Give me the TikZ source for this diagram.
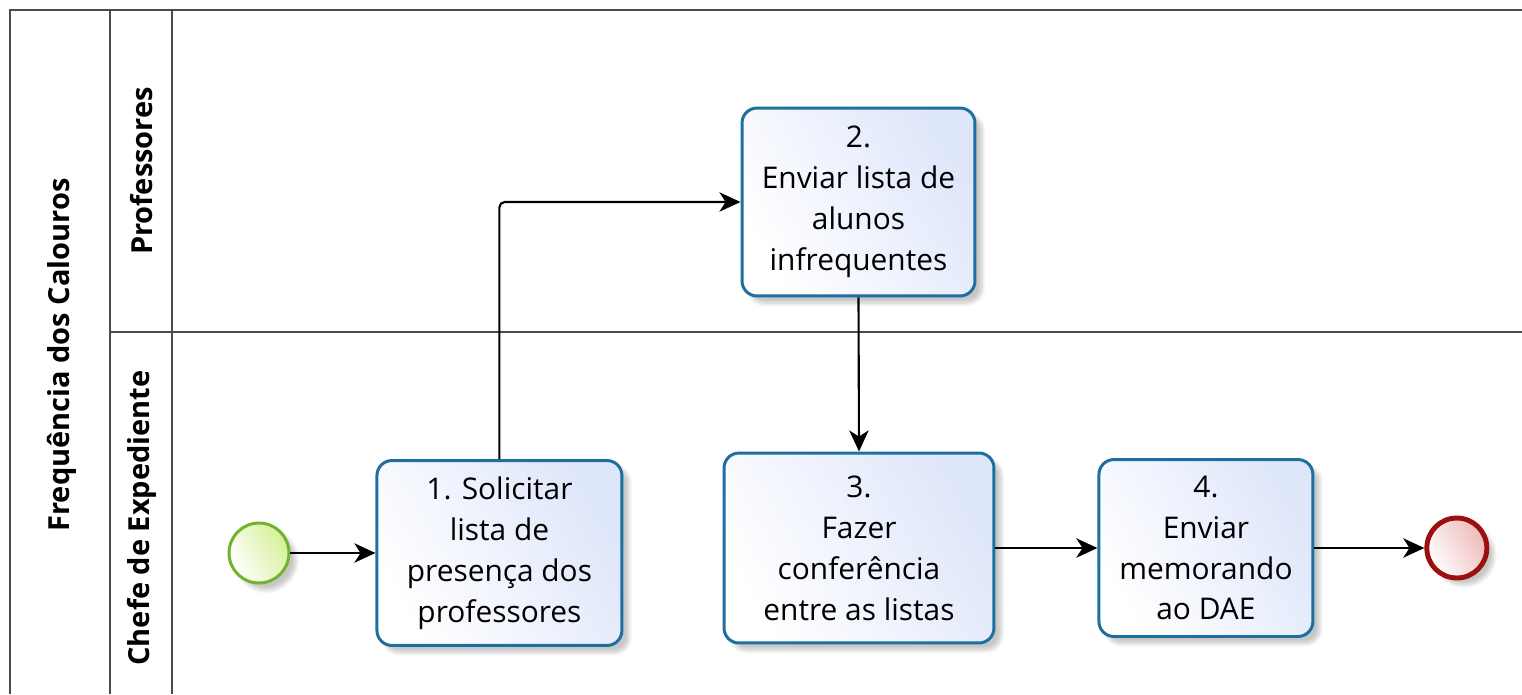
\documentclass[tikz,border=0pt]{standalone}
\usepackage{fontspec}
\setmainfont{Open Sans}
\usetikzlibrary{positioning, arrows.meta, shadows.blur}
\definecolor{taskline}{RGB}{30,110,160}
\definecolor{taskfill}{RGB}{222,230,250}
\definecolor{startline}{RGB}{110,180,45}
\definecolor{startfill}{RGB}{214,240,150}
\definecolor{endline}{RGB}{155,15,15}
\definecolor{endfill}{RGB}{238,185,185}
\definecolor{laneline}{RGB}{75,75,75}
\tikzset{
    softshadow/.style={blur shadow={shadow xshift=4pt, shadow yshift=-4pt, shadow opacity=22, shadow blur steps=8}},
    task/.style={draw=taskline, line width=1.7pt, rounded corners=0.3cm, align=center,
      font=\fontsize{17}{23.3}\selectfont, left color=white, right color=taskfill,
      shading angle=120, inner sep=0pt, softshadow},
    event/.style={circle, minimum size=1.2cm, inner sep=0pt, softshadow},
    startevent/.style={event, draw=startline, line width=1.7pt, left color=white, right color=startfill, shading angle=120},
    endevent/.style={event, draw=endline, line width=2.8pt, left color=white, right color=endfill, shading angle=120},
    flow/.style={draw, line width=1.2pt, -{Stealth[length=12pt, width=11pt, inset=3.5pt]}},
    lane/.style={draw=laneline, line width=1.1pt},
    lanelabel/.style={rotate=90, font=\bfseries\fontsize{16.5}{20}\selectfont},
}
\begin{document}
\begin{tikzpicture}[x=0.02cm, y=-0.02cm]
    \useasboundingbox (0,0) rectangle (1522,694);

    % pool and lanes
    \draw[lane] (1522,10) -- (10,10) -- (10,694);
    \draw[lane] (110,10) -- (110,694);
    \draw[lane] (172,10) -- (172,694);
    \draw[lane] (110,332) -- (1522,332);
    \node[lanelabel] (pool) at (62,355) {Frequência dos Calouros};
    \node[lanelabel] (prof) at (142,171) {Professores};
    \node[lanelabel] (chefe) at (142,518) {Chefe de Expediente};

    % events and tasks
    \node[startevent] (start) at (259,553) {};
    \node[task, minimum width=4.9cm, minimum height=3.7cm, right=1.7cm of start] (t1)
      {1. Solicitar\\lista de\\presença dos\\professores};
    \node[task, minimum width=4.66cm, minimum height=3.76cm] (t2) at (858.5,202)
      {2.\\Enviar lista de\\alunos\\infrequentes};
    \node[task, minimum width=5.4cm, minimum height=3.8cm] (t3) at (859,548)
      {3.\\Fazer\\conferência\\entre as listas};
    \node[task, minimum width=4.28cm, minimum height=3.54cm, right=2.04cm of t3] (t4)
      {4.\\Enviar\\memorando\\ao DAE};
    \node[endevent, right=2.2cm of t4] (end) {};

    \draw[flow] (start) -- (t1);
    \draw[flow, rounded corners=3pt] (t1.north) |- (t2.west);
    \draw[flow] (t2.south) -- (t3.north);
    \draw[flow] (t3) -- (t4);
    \draw[flow] (t4) -- (end);
\end{tikzpicture}
\end{document}
